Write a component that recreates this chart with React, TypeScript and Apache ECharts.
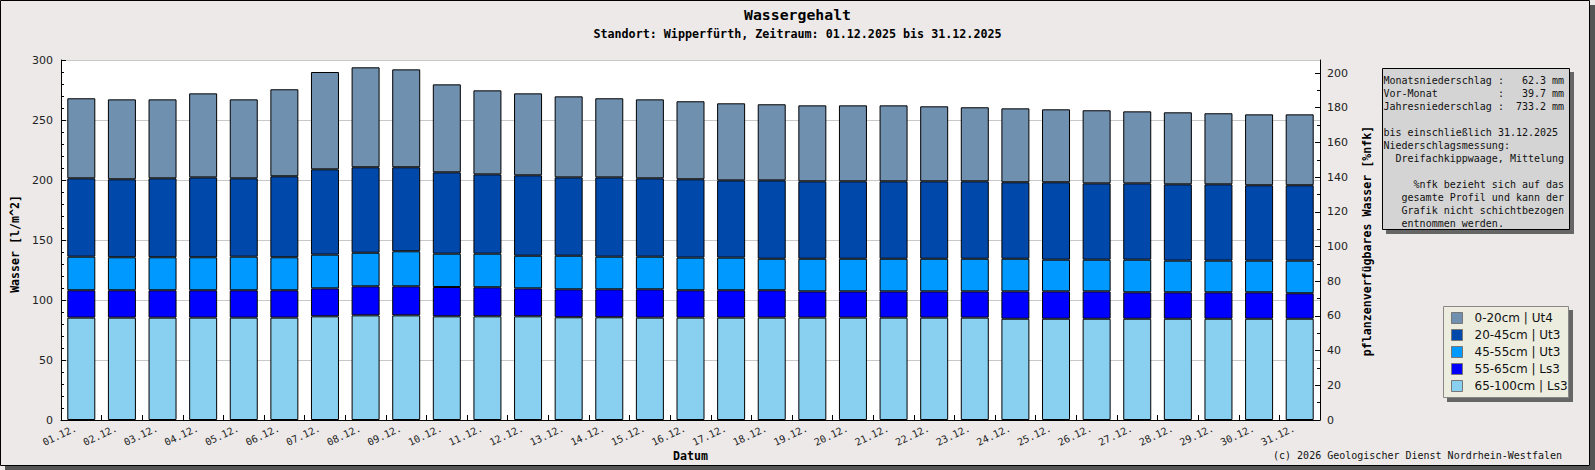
import React, { useEffect, useRef } from "react";
import * as echarts from "echarts";

const days = [
  "01.12.", "02.12.", "03.12.", "04.12.", "05.12.", "06.12.", "07.12.", "08.12.", "09.12.", "10.12.",
  "11.12.", "12.12.", "13.12.", "14.12.", "15.12.", "16.12.", "17.12.", "18.12.", "19.12.", "20.12.",
  "21.12.", "22.12.", "23.12.", "24.12.", "25.12.", "26.12.", "27.12.", "28.12.", "29.12.", "30.12.",
  "31.12.",
];

const layer65_100 = [85.3, 85.3, 85.3, 85.3, 85.3, 85.3, 86.4, 87.2, 87.2, 86.4, 86.4, 86.4, 85.6, 85.6, 85.3, 85.3, 85.3, 85.3, 85.3, 85.3, 85.3, 85.3, 85.3, 84.4, 84.4, 84.4, 84.4, 84.4, 84.4, 84.4, 84.4];
const layer55_65 = [22.8, 22.8, 22.8, 22.8, 22.8, 22.8, 23.3, 24.2, 24.2, 24.4, 24.2, 23.3, 23.3, 23.3, 23.6, 22.8, 22.8, 22.8, 21.9, 21.9, 21.9, 21.9, 21.9, 22.8, 22.8, 22.8, 22.0, 22.0, 22.0, 22.0, 21.2];
const layer45_55 = [28.0, 27.5, 27.5, 27.5, 28.0, 27.5, 28.1, 28.0, 29.2, 27.8, 28.0, 27.2, 28.0, 27.2, 27.2, 27.2, 27.2, 26.3, 27.2, 27.2, 27.2, 27.2, 27.2, 27.2, 26.4, 26.4, 27.2, 26.4, 26.4, 26.4, 27.2];
const layer20_45 = [65.3, 65.0, 65.8, 66.6, 65.3, 67.5, 71.1, 71.2, 70.0, 67.8, 66.1, 67.0, 65.3, 66.1, 65.3, 65.3, 64.4, 65.3, 64.5, 64.5, 64.5, 64.5, 64.5, 63.7, 64.5, 63.6, 63.6, 63.6, 63.6, 62.8, 62.8];
const layer0_20 = [66.7, 66.6, 65.8, 70.0, 65.8, 72.5, 81.1, 83.3, 81.6, 73.3, 70.0, 68.3, 67.5, 65.9, 65.8, 65.0, 64.2, 63.4, 63.3, 63.3, 63.3, 62.5, 61.7, 61.6, 60.8, 60.9, 60.0, 60.0, 59.2, 59.1, 59.1];

const layerNames = ["0-20cm | Ut4", "20-45cm | Ut3", "45-55cm | Ut3", "55-65cm | Ls3", "65-100cm | Ls3"];
const layerColors = ["#7090b0", "#0048aa", "#0099ff", "#0000ff", "#88cff0"];

const leftTicks = [0, 50, 100, 150, 200, 250, 300];
const rightMax = 207.5;
const rightMajor = [0, 20, 40, 60, 80, 100, 120, 140, 160, 180, 200];
const rightMinor = [10, 30, 50, 70, 90, 110, 130, 150, 170, 190];

const titleText = "Wassergehalt";
const subtitleText = "Standort: Wipperfürth, Zeitraum: 01.12.2025 bis 31.12.2025";
const xName = "Datum";
const yLeftName = "Wasser [l/m^2]";
const yRightName = "pflanzenverfügbares Wasser [%nfk]";
const copyright = "(c) 2026 Geologischer Dienst Nordrhein-Westfalen";

const MONO = "'DejaVu Sans Mono', 'Liberation Mono', monospace";
const SANS = "'DejaVu Sans', sans-serif";

export default function App() {
  const ref = useRef<HTMLDivElement>(null);

  useEffect(() => {
    document.body.style.margin = "0";
    if (!ref.current) return;
    const chart = echarts.init(ref.current, undefined, { renderer: "svg" });

    const seriesData = [layer0_20, layer20_45, layer45_55, layer55_65, layer65_100];
    const order = [4, 3, 2, 1, 0]; // bottom to top
    const series = order.map((i) => ({
      name: layerNames[i],
      type: "bar",
      stack: "total",
      data: seriesData[i],
      barWidth: 28,
      itemStyle: { color: layerColors[i], borderColor: "#000", borderWidth: 1 },
      emphasis: { disabled: true },
    }));

    const charW = 6.02;
    const bx = 1383.5;
    const bxr = bx + 30 * charW;
    const infoY = (i: number) => 80 + 13 * i;
    const infoText = (text: string, x: number, i: number, align = "left") => ({
      type: "text",
      x,
      y: infoY(i),
      z: 12,
      style: {
        text,
        fontFamily: MONO,
        fontSize: 10,
        fill: "#111",
        align,
        verticalAlign: "middle",
      },
    });

    const option: any = {
      animation: false,
      backgroundColor: "#ece9e8",
      grid: {
        left: 61,
        right: 275,
        top: 60,
        bottom: 50,
        show: true,
        backgroundColor: "#ffffff",
        borderWidth: 0,
      },
      legend: {
        orient: "vertical",
        left: 1451,
        top: 312,
        padding: 0,
        itemGap: 5,
        itemWidth: 11,
        itemHeight: 11,
        icon: "rect",
        z: 20,
        data: layerNames,
        selectedMode: false,
        itemStyle: { borderColor: "#777", borderWidth: 1 },
        textStyle: {
          fontFamily: SANS,
          fontSize: 12,
          color: "#111",
          lineHeight: 11,
          padding: [0, 0, 0, 7],
        },
      },
      xAxis: {
        type: "category",
        data: days,
        boundaryGap: true,
        axisLine: { show: true, lineStyle: { color: "#000", width: 1 } },
        axisTick: { show: true, inside: true, length: 5, alignWithLabel: false, lineStyle: { color: "#000" } },
        axisLabel: {
          interval: 0,
          rotate: 25,
          margin: 5,
          fontFamily: MONO,
          fontSize: 10,
          color: "#222",
          padding: [0, 6, 0, 0],
        },
        splitLine: { show: false },
      },
      yAxis: [
        {
          type: "value",
          position: "left",
          min: leftTicks[0],
          max: leftTicks[leftTicks.length - 1],
          interval: 50,
          axisLine: { show: true, lineStyle: { color: "#000" } },
          axisTick: { show: true, inside: true, length: 5, lineStyle: { color: "#000" } },
          minorTick: { show: true, splitNumber: 5, length: 3, lineStyle: { color: "#000" } },
          splitLine: { show: true, lineStyle: { color: "#c8c8c8", width: 1 } },
          axisLabel: { fontFamily: SANS, fontSize: 11, color: "#222", margin: 8 },
        },
        {
          type: "value",
          position: "right",
          min: 0,
          max: rightMax,
          axisLine: { show: true, onZero: false, lineStyle: { color: "#000" } },
          axisTick: { show: true, inside: true, length: 5, lineStyle: { color: "#000" }, customValues: rightMajor },
          axisLabel: { fontFamily: SANS, fontSize: 11, color: "#222", margin: 7, customValues: rightMajor },
          splitLine: { show: false },
        },
        {
          type: "value",
          position: "right",
          offset: 0,
          min: 0,
          max: rightMax,
          axisLine: { show: false },
          axisTick: { show: true, inside: true, length: 3, lineStyle: { color: "#000" }, customValues: rightMinor },
          axisLabel: { show: false },
          splitLine: { show: false },
        },
      ],
      series,
      graphic: [
        // outer frame shadow
        { type: "rect", shape: { x: 1590, y: 5, width: 5, height: 465 }, style: { fill: "#555" }, z: 1 },
        { type: "rect", shape: { x: 5, y: 466, width: 1590, height: 4 }, style: { fill: "#555" }, z: 1 },
        { type: "rect", shape: { x: 0.5, y: 0.5, width: 1589, height: 465 }, style: { fill: "none", stroke: "#000", lineWidth: 1 }, z: 1 },
        // titles
        {
          type: "text", x: 797.5, y: 14, z: 5,
          style: { text: titleText, fontFamily: MONO, fontSize: 14.8, fontWeight: "bold", fill: "#000", align: "center", verticalAlign: "middle" },
        },
        {
          type: "text", x: 797.5, y: 34, z: 5,
          style: { text: subtitleText, fontFamily: MONO, fontSize: 11.7, fontWeight: "bold", fill: "#000", align: "center", verticalAlign: "middle" },
        },
        // axis names
        {
          type: "text", x: 15, y: 244, rotation: Math.PI / 2, z: 5,
          style: { text: yLeftName, fontFamily: MONO, fontSize: 11.6, fontWeight: "bold", fill: "#000", align: "center", verticalAlign: "middle" },
        },
        {
          type: "text", x: 1367, y: 241, rotation: Math.PI / 2, z: 5,
          style: { text: yRightName, fontFamily: MONO, fontSize: 11.6, fontWeight: "bold", fill: "#000", align: "center", verticalAlign: "middle" },
        },
        {
          type: "text", x: 690.5, y: 456, z: 5,
          style: { text: xName, fontFamily: MONO, fontSize: 11.6, fontWeight: "bold", fill: "#000", align: "center", verticalAlign: "middle" },
        },
        {
          type: "text", x: 1562, y: 455, z: 5,
          style: { text: copyright, fontFamily: MONO, fontSize: 10, fill: "#111", align: "right", verticalAlign: "middle" },
        },
        // info box
        { type: "rect", shape: { x: 1386, y: 72, width: 188, height: 162 }, style: { fill: "#666" }, z: 10 },
        { type: "rect", shape: { x: 1382.5, y: 68.5, width: 187, height: 161 }, style: { fill: "#d4d4d4", stroke: "#000", lineWidth: 1 }, z: 11 },
        infoText("Monatsniederschlag :", bx, 0),
        infoText("62.3 mm", bxr, 0, "right"),
        infoText("Vor-Monat", bx, 1),
        infoText(":", bx + 19 * charW, 1),
        infoText("39.7 mm", bxr, 1, "right"),
        infoText("Jahresniederschlag :", bx, 2),
        infoText("733.2 mm", bxr, 2, "right"),
        infoText("bis einschließlich 31.12.2025", bx, 4),
        infoText("Niederschlagsmessung:", bx, 5),
        infoText("Dreifachkippwaage, Mittelung", bxr, 6, "right"),
        infoText("%nfk bezieht sich auf das", bxr, 8, "right"),
        infoText("gesamte Profil und kann der", bxr, 9, "right"),
        infoText("Grafik nicht schichtbezogen", bxr, 10, "right"),
        infoText("entnommen werden.", bx + 3 * charW, 11),
        // legend box
        { type: "rect", shape: { x: 1447, y: 310, width: 126, height: 92 }, style: { fill: "#666" }, z: 10 },
        { type: "rect", shape: { x: 1443.5, y: 306.5, width: 125, height: 91 }, style: { fill: "#ececdf", stroke: "#888", lineWidth: 1 }, z: 11 },
      ],
    };

    chart.setOption(option);
    return () => chart.dispose();
  }, []);

  return <div ref={ref} style={{ width: 1595, height: 470 }} />;
}
